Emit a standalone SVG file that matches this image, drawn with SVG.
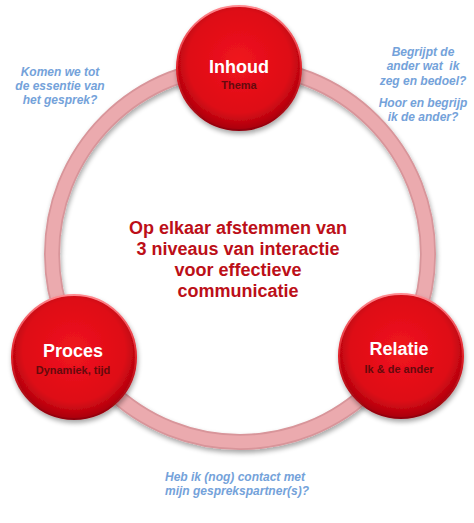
<svg xmlns="http://www.w3.org/2000/svg" width="474" height="523" viewBox="0 0 474 523">
<defs>
<radialGradient id="red" cx="50%" cy="45%" r="55%">
<stop offset="0" stop-color="#f0141e"/>
<stop offset="0.75" stop-color="#de0c16"/>
<stop offset="1" stop-color="#a8000c"/>
</radialGradient>
<linearGradient id="rim" x1="0" y1="0" x2="0" y2="1">
<stop offset="0" stop-color="#ff8a90"/>
<stop offset="0.5" stop-color="#e02028"/>
<stop offset="1" stop-color="#90000a"/>
</linearGradient>
<filter id="sh" x="-20%" y="-20%" width="140%" height="140%">
<feGaussianBlur in="SourceAlpha" stdDeviation="2.5"/>
<feOffset dx="1" dy="3" result="b"/>
<feComponentTransfer><feFuncA type="linear" slope="0.35"/></feComponentTransfer>
<feMerge><feMergeNode/><feMergeNode in="SourceGraphic"/></feMerge>
</filter>
</defs>
<style>
.ball{fill:url(#red);stroke:url(#rim);stroke-width:2;filter:url(#sh)}
.title{font-family:"Liberation Sans",Arial,sans-serif;font-weight:bold;font-size:18px;fill:#ffffff;text-anchor:middle}
.sub{font-family:"Liberation Sans",Arial,sans-serif;font-weight:bold;font-size:11px;fill:#650a0c;text-anchor:middle}
.q{font-family:"Liberation Sans",Arial,sans-serif;font-weight:bold;font-style:italic;font-size:12px;fill:#74a2da;white-space:pre}
.center{font-family:"Liberation Sans",Arial,sans-serif;font-weight:bold;font-size:18px;fill:#bc0f18;text-anchor:middle}
</style>
<rect width="474" height="523" fill="#ffffff"/>
<g id="connectors">
<circle cx="240" cy="254" r="188" fill="none" stroke="#d8959a" stroke-width="16" filter="url(#sh)"/>
<circle cx="240" cy="254" r="188" fill="none" stroke="#ebaaae" stroke-width="12.5"/>
</g>
<g id="center-text">
<text class="center" x="238" y="234">Op elkaar afstemmen van</text>
<text class="center" x="238" y="255">3 niveaus van interactie</text>
<text class="center" x="238" y="276">voor effectieve</text>
<text class="center" x="238" y="297">communicatie</text>
</g>
<g id="node-inhoud">
<circle class="ball" cx="239" cy="68" r="62"/>
<text class="title" x="239" y="73">Inhoud</text>
<text class="sub" x="239" y="89">Thema</text>
</g>
<g id="node-proces">
<circle class="ball" cx="74" cy="357" r="62"/>
<text class="title" x="73" y="357">Proces</text>
<text class="sub" x="73" y="374">Dynamiek, tijd</text>
</g>
<g id="node-relatie">
<circle class="ball" cx="401" cy="356" r="62"/>
<text class="title" x="399" y="355">Relatie</text>
<text class="sub" x="399" y="373">Ik &amp; de ander</text>
</g>
<g id="q-inhoud" text-anchor="middle">
<text class="q" x="60" y="76">Komen we tot</text>
<text class="q" x="60" y="90">de essentie van</text>
<text class="q" x="60" y="104">het gesprek?</text>
</g>
<g id="q-relatie" text-anchor="middle">
<text class="q" x="423" y="56">Begrijpt de</text>
<text class="q" x="423" y="70">ander wat  ik</text>
<text class="q" x="423" y="85">zeg en bedoel?</text>
<text class="q" x="423" y="107">Hoor en begrijp</text>
<text class="q" x="423" y="121">ik de ander?</text>
</g>
<g id="q-proces">
<text class="q" x="165" y="481">Heb ik (nog) contact met</text>
<text class="q" x="165" y="495">mijn gesprekspartner(s)?</text>
</g>
</svg>
